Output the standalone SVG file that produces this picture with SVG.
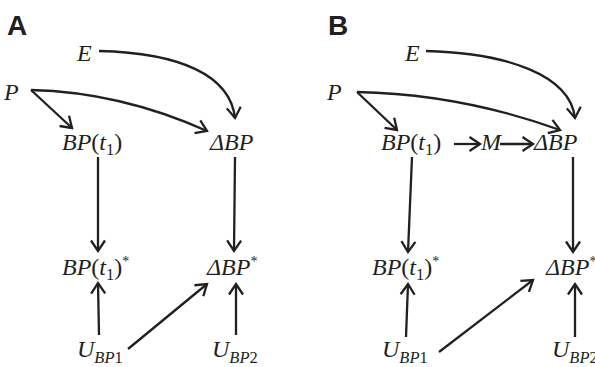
<svg xmlns="http://www.w3.org/2000/svg" width="595" height="367" viewBox="0 0 595 367">
<style>
text.t{font-family:'Liberation Serif','Times New Roman',serif;font-size:24px;fill:#231f20}
.i{font-style:italic}
.s{font-size:16.5px}
.a{font-size:14px}
text.lab{font-family:'Liberation Sans',Arial,sans-serif;font-weight:bold;font-size:28px;fill:#231f20}
.c{fill:none;stroke:#231f20;stroke-width:2.3;marker-end:url(#ah)}
</style>
<defs>
<marker id="ah" viewBox="-13 -9 16 18" refX="0" refY="0" markerWidth="16" markerHeight="18" orient="auto" markerUnits="userSpaceOnUse">
<path d="M-10.5,-7 L0,0 L-10.5,7" fill="none" stroke="#231f20" stroke-width="2.3"/>
</marker>
</defs>
<rect width="595" height="367" fill="#fff"/>
<text class="lab" x="7" y="35">A</text>
<text class="lab" x="328" y="35">B</text>
<g id="A-E"><text class="t i" x="77" y="61">E</text></g>
<g id="A-P"><text class="t i" x="4" y="100">P</text></g>
<g id="A-BPt1"><text class="t" x="62" y="150"><tspan class="i">BP</tspan>(<tspan class="i">t</tspan><tspan class="s" dy="5">1</tspan><tspan dy="-5">)</tspan></text></g>
<g id="A-dBP"><text class="t i" x="210" y="150">ΔBP</text></g>
<g id="A-BPt1s"><text class="t" x="62" y="275"><tspan class="i">BP</tspan>(<tspan class="i">t</tspan><tspan class="s" dy="5">1</tspan><tspan dy="-5">)</tspan><tspan class="a" dy="-9">*</tspan></text></g>
<g id="A-dBPs"><text class="t" x="207" y="275"><tspan class="i">ΔBP</tspan><tspan class="a" dy="-9">*</tspan></text></g>
<g id="A-U1"><text class="t" x="77" y="357"><tspan class="i">U</tspan><tspan class="s i" dy="6">BP</tspan><tspan class="s">1</tspan></text></g>
<g id="A-U2"><text class="t" x="212" y="357"><tspan class="i">U</tspan><tspan class="s i" dy="6">BP</tspan><tspan class="s">2</tspan></text></g>
<g id="B-E"><text class="t i" x="405" y="61">E</text></g>
<g id="B-P"><text class="t i" x="327" y="100">P</text></g>
<g id="B-BPt1"><text class="t" x="381" y="150"><tspan class="i">BP</tspan>(<tspan class="i">t</tspan><tspan class="s" dy="5">1</tspan><tspan dy="-5">)</tspan></text></g>
<g id="B-M"><text class="t i" x="481" y="150">M</text></g>
<g id="B-dBP"><text class="t i" x="534" y="150">ΔBP</text></g>
<g id="B-BPt1s"><text class="t" x="372" y="275"><tspan class="i">BP</tspan>(<tspan class="i">t</tspan><tspan class="s" dy="5">1</tspan><tspan dy="-5">)</tspan><tspan class="a" dy="-9">*</tspan></text></g>
<g id="B-dBPs"><text class="t" x="546" y="275"><tspan class="i">ΔBP</tspan><tspan class="a" dy="-9">*</tspan></text></g>
<g id="B-U1"><text class="t" x="382" y="357"><tspan class="i">U</tspan><tspan class="s i" dy="6">BP</tspan><tspan class="s">1</tspan></text></g>
<g id="B-U2"><text class="t" x="552" y="357"><tspan class="i">U</tspan><tspan class="s i" dy="6">BP</tspan><tspan class="s">2</tspan></text></g>
<g id="connectors">
<path class="c" d="M99,51 C180,53 230,75 235,118"/>
<path class="c" d="M31,90 Q120,92 207,131"/>
<path class="c" d="M31,90 L72,128"/>
<path class="c" d="M98,157 L98,251"/>
<path class="c" d="M235,157 L234,251"/>
<path class="c" d="M99,335 L98,283"/>
<path class="c" d="M128,349 L207,284"/>
<path class="c" d="M236,335 L236,284"/>
<path class="c" d="M426,51 C507,53 570,75 575,118"/>
<path class="c" d="M357,92 Q460,94 560,130"/>
<path class="c" d="M357,92 L397,130"/>
<path class="c" d="M454,144 L480,144"/>
<path class="c" d="M500,144 L533,144"/>
<path class="c" d="M412,157 L408,252"/>
<path class="c" d="M573,157 L573,252"/>
<path class="c" d="M406,337 L408,284"/>
<path class="c" d="M439,352 L533,280"/>
<path class="c" d="M575,337 L575,284"/>
</g>
</svg>
